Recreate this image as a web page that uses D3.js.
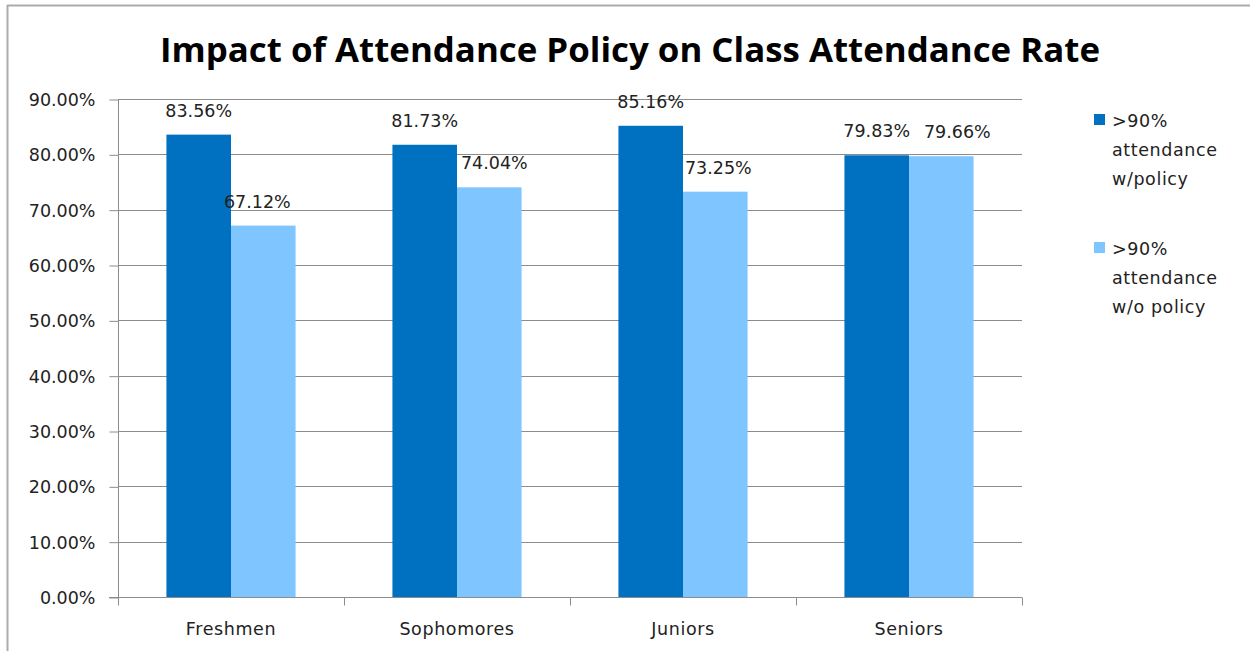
<!DOCTYPE html>
<html>
<head>
<meta charset="utf-8">
<script src="https://cdn.jsdelivr.net/npm/d3@7/dist/d3.min.js"></script>
<style>
  body { margin: 0; background: #fff; }
  svg { display: block; font-family: "DejaVu Sans", Verdana, sans-serif; }
</style>
</head>
<body>
<svg id="chart" width="1250" height="651"></svg>
<script>
// chart data
var categories = ["Freshmen", "Sophomores", "Juniors", "Seniors"];
var seriesNames = [">90% attendance w/policy", ">90% attendance w/o policy"];
var withPolicy = [83.56, 81.73, 85.16, 79.83];
var withoutPolicy = [67.12, 74.04, 73.25, 79.66];
var yTicks = [0, 10, 20, 30, 40, 50, 60, 70, 80, 90];
var legendLines = [[">90%", "attendance", "w/policy"], [">90%", "attendance", "w/o policy"]];

var colors = ["#0070c0", "#7fc5ff"];
var series = [withPolicy, withoutPolicy];
var fs = 17.5;
// a few labels of the light series sit off-centre in the original
var labelNudge = [[0, 0, 0, 0], [-6, 5, 3, 16]];

var svg = d3.select("#chart");
var plotLeft = 118, plotRight = 1022, plotTop = 99, plotBottom = 597;

// outer frame (only top and left edges visible)
svg.append("line").attr("x1", 7).attr("x2", 1250).attr("y1", 5.5).attr("y2", 5.5)
  .attr("stroke", "#ababab").attr("stroke-width", 2);
svg.append("line").attr("x1", 7.5).attr("x2", 7.5).attr("y1", 5).attr("y2", 651)
  .attr("stroke", "#ababab").attr("stroke-width", 2);

// title
svg.append("text")
  .attr("x", 630).attr("y", 62)
  .attr("text-anchor", "middle")
  .attr("font-family", "'Open Sans', sans-serif")
  .attr("font-weight", "bold")
  .attr("font-size", 34)
  .attr("textLength", 940)
  .attr("lengthAdjust", "spacingAndGlyphs")
  .text("Impact of Attendance Policy on Class Attendance Rate");

var y = d3.scaleLinear().domain([0, 90]).range([plotBottom, plotTop]);
var x0 = d3.scaleBand().domain(categories).range([plotLeft, plotRight]).paddingInner(0).paddingOuter(0);
var innerW = x0.bandwidth() * 2 / 3.5;
var x1 = d3.scaleBand().domain([0, 1]).range([0, innerW]);

// gridlines
svg.append("g").selectAll("line").data(yTicks.filter(function(d) { return d > 0; }))
  .enter().append("line")
  .attr("x1", plotLeft).attr("x2", plotRight)
  .attr("y1", function(d) { return Math.round(y(d)) + 0.5; })
  .attr("y2", function(d) { return Math.round(y(d)) + 0.5; })
  .attr("stroke", "#8c8c8c").attr("stroke-width", 1);

// y axis
var yAxis = d3.axisLeft(y).tickValues(yTicks).tickSize(9).tickPadding(14)
  .tickFormat(function(d) { return d3.format(".2f")(d) + "%"; });
var gy = svg.append("g").attr("transform", "translate(" + (plotLeft + 0.5) + ",0.5)").call(yAxis);
gy.select(".domain").attr("stroke", "#8c8c8c").attr("d", "M0," + (plotTop - 0.5) + "V" + (plotBottom - 0.5));
gy.selectAll(".tick line").attr("stroke", "#8c8c8c");
gy.selectAll(".tick text").attr("font-size", fs).attr("fill", "#222")
  .attr("font-family", "'DejaVu Sans', sans-serif").attr("dy", "0.35em");

// bars
var groups = svg.append("g").selectAll("g").data(categories).enter().append("g")
  .attr("transform", function(d) { return "translate(" + (x0(d) + (x0.bandwidth() - innerW) / 2) + ",0)"; });

series.forEach(function(vals, s) {
  groups.append("rect")
    .attr("x", x1(s))
    .attr("width", x1.bandwidth())
    .attr("y", function(d, i) { return y(vals[i]); })
    .attr("height", function(d, i) { return y(0) - y(vals[i]); })
    .attr("fill", colors[s]);
  groups.append("text")
    .attr("x", function(d, i) { return x1(s) + x1.bandwidth() / 2 + labelNudge[s][i]; })
    .attr("y", function(d, i) { return y(vals[i]) - 18; })
    .attr("text-anchor", "middle")
    .attr("font-size", fs).attr("fill", "#222")
    .text(function(d, i) { return d3.format(".2f")(vals[i]) + "%"; });
});

// x axis
var gx = svg.append("g").attr("transform", "translate(0," + (plotBottom + 0.5) + ")");
gx.append("line").attr("x1", plotLeft - 9).attr("x2", plotRight).attr("stroke", "#8c8c8c");
gx.selectAll(".cat-tick").data(d3.range(categories.length + 1)).enter().append("line")
  .attr("x1", function(i) { return Math.round(plotLeft + i * x0.bandwidth()) + 0.5; })
  .attr("x2", function(i) { return Math.round(plotLeft + i * x0.bandwidth()) + 0.5; })
  .attr("y1", 0).attr("y2", 8).attr("stroke", "#8c8c8c");
gx.selectAll("text").data(categories).enter().append("text")
  .attr("x", function(d) { return x0(d) + x0.bandwidth() / 2; })
  .attr("y", 37)
  .attr("text-anchor", "middle")
  .attr("font-size", fs).attr("fill", "#222")
  .attr("letter-spacing", 0.6)
  .text(function(d) { return d; });

// legend
var legend = svg.append("g").selectAll("g").data(seriesNames).enter().append("g")
  .attr("transform", function(d, i) { return "translate(1094," + (114 + i * 128) + ")"; });
legend.append("rect").attr("width", 11).attr("height", 11)
  .attr("fill", function(d, i) { return colors[i]; });
legend.each(function(d, i) {
  var t = d3.select(this).append("text").attr("font-size", fs).attr("fill", "#222")
    .attr("letter-spacing", 0.6);
  legendLines[i].forEach(function(line, j) {
    t.append("tspan").attr("x", 18).attr("y", 13 + j * 29).text(line);
  });
});
</script>
</body>
</html>
